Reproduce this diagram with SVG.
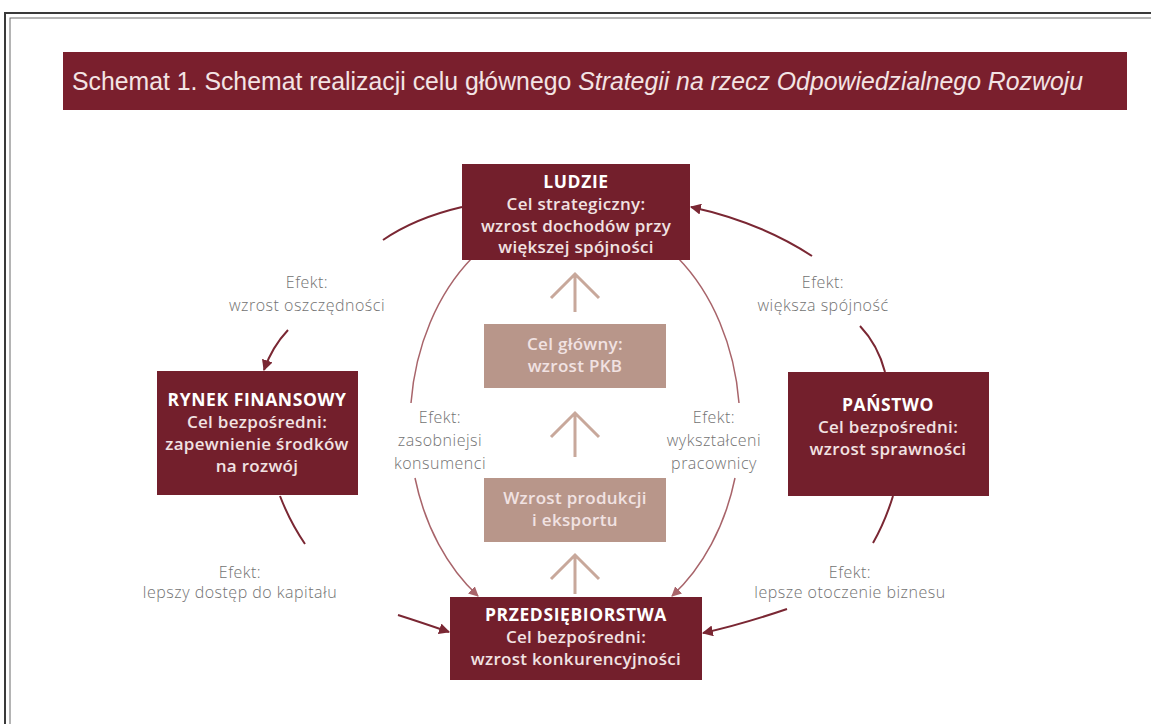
<svg xmlns="http://www.w3.org/2000/svg" width="1151" height="724" viewBox="0 0 1151 724">
<defs>
<style>
.box{fill:#731f2c}
.sub{fill:#b8968a}
.hd{font-family:"Open Sans","Liberation Sans",sans-serif;font-size:17.5px;font-weight:700;fill:#ffffff;text-anchor:middle;letter-spacing:0.6px}
.bt{font-family:"Open Sans","Liberation Sans",sans-serif;font-size:17px;font-weight:600;fill:#f1e2e2;text-anchor:middle;letter-spacing:0.3px}
.lb{font-family:"Open Sans","Liberation Sans",sans-serif;font-size:16px;font-weight:300;fill:#727272;text-anchor:middle;letter-spacing:0.5px}
.outer{fill:none;stroke:#7a2733;stroke-width:2}
.inner{fill:none;stroke:#a8646a;stroke-width:1.5}
.up{fill:none;stroke:#c8a89b;stroke-width:3}
</style>
<marker id="ah" viewBox="0 0 10 10" refX="9" refY="5" markerWidth="11" markerHeight="11" markerUnits="userSpaceOnUse" orient="auto">
<path d="M0,0 L10,5 L0,10 z" fill="#7a2733"/>
</marker>
<marker id="ahi" viewBox="0 0 10 10" refX="9" refY="5" markerWidth="10" markerHeight="10" markerUnits="userSpaceOnUse" orient="auto">
<path d="M0,0 L10,5 L0,10 z" fill="#a8646a"/>
</marker>
</defs>
<rect width="1151" height="724" fill="#ffffff"/>
<rect x="5" y="13" width="1170" height="740" fill="none" stroke="#3a3a3a" stroke-width="2"/>
<rect x="10" y="18" width="1160" height="730" fill="none" stroke="#6a6a6a" stroke-width="1"/>

<g id="title">
<rect x="63" y="52" width="1064" height="58" fill="#7a1f2d"/>
<text x="72" y="90" font-family="Liberation Sans, Arial, sans-serif" font-size="25" fill="#f3e4e4" textLength="1011" lengthAdjust="spacingAndGlyphs">Schemat 1. Schemat realizacji celu głównego <tspan font-style="italic">Strategii na rzecz Odpowiedzialnego Rozwoju</tspan></text>
</g>

<g id="connectors">
<path class="outer" d="M462,207 Q415,218 383,240"/>
<path class="outer" d="M288,330 Q272,347 264,370" marker-end="url(#ah)"/>
<path class="outer" d="M885,372 Q878,345 860,326"/>
<path class="outer" d="M812,256 Q760,222 691,207" marker-end="url(#ah)"/>
<path class="outer" d="M280,496 Q290,522 305,544"/>
<path class="outer" d="M398,615 Q420,622 449,632" marker-end="url(#ah)"/>
<path class="outer" d="M893,496 Q885,522 873,543"/>
<path class="outer" d="M787,609 Q740,625 703,633" marker-end="url(#ah)"/>
<path class="inner" d="M472,258 A163,212 0 0 0 411,403"/>
<path class="inner" d="M415,478 A163,212 0 0 0 478,596" marker-end="url(#ahi)"/>
<path class="inner" d="M678,258 A163,212 0 0 1 739,403"/>
<path class="inner" d="M735,478 A163,212 0 0 1 672,596" marker-end="url(#ahi)"/>
<path class="up" d="M575,312 V275 M551,298 L575,274 L599,298"/>
<path class="up" d="M575,457 V414 M551,437 L575,413 L599,437"/>
<path class="up" d="M575,594 V556 M551,579 L575,555 L599,579"/>
</g>

<g id="lab-oszczednosci">
<text class="lb" x="307" y="288">Efekt:</text>
<text class="lb" x="307" y="311">wzrost oszczędności</text>
</g>
<g id="lab-spojnosc">
<text class="lb" x="823" y="288">Efekt:</text>
<text class="lb" x="823" y="311">większa spójność</text>
</g>
<g id="lab-konsumenci">
<text class="lb" x="440" y="423">Efekt:</text>
<text class="lb" x="440" y="446">zasobniejsi</text>
<text class="lb" x="440" y="469">konsumenci</text>
</g>
<g id="lab-pracownicy">
<text class="lb" x="714" y="423">Efekt:</text>
<text class="lb" x="714" y="446">wykształceni</text>
<text class="lb" x="714" y="469">pracownicy</text>
</g>
<g id="lab-kapital">
<text class="lb" x="240" y="578">Efekt:</text>
<text class="lb" x="240" y="598">lepszy dostęp do kapitału</text>
</g>
<g id="lab-biznes">
<text class="lb" x="850" y="578">Efekt:</text>
<text class="lb" x="850" y="598">lepsze otoczenie biznesu</text>
</g>

<g id="ludzie">
<rect class="box" x="462" y="164" width="228" height="96"/>
<text class="hd" x="576" y="188">LUDZIE</text>
<text class="bt" x="576" y="210">Cel strategiczny:</text>
<text class="bt" x="576" y="232">wzrost dochodów przy</text>
<text class="bt" x="576" y="253">większej spójności</text>
</g>
<g id="cel-glowny">
<rect class="sub" x="484" y="324" width="182" height="64"/>
<text class="bt" x="575" y="350">Cel główny:</text>
<text class="bt" x="575" y="372">wzrost PKB</text>
</g>
<g id="wzrost-produkcji">
<rect class="sub" x="484" y="478" width="182" height="64"/>
<text class="bt" x="575" y="504">Wzrost produkcji</text>
<text class="bt" x="575" y="526">i eksportu</text>
</g>
<g id="rynek">
<rect class="box" x="157" y="371" width="201" height="124"/>
<text class="hd" x="257" y="406">RYNEK FINANSOWY</text>
<text class="bt" x="257" y="428">Cel bezpośredni:</text>
<text class="bt" x="257" y="450">zapewnienie środków</text>
<text class="bt" x="257" y="472">na rozwój</text>
</g>
<g id="panstwo">
<rect class="box" x="788" y="372" width="201" height="124"/>
<text class="hd" x="888" y="411">PAŃSTWO</text>
<text class="bt" x="888" y="433">Cel bezpośredni:</text>
<text class="bt" x="888" y="455">wzrost sprawności</text>
</g>
<g id="przedsiebiorstwa">
<rect class="box" x="450" y="597" width="252" height="83"/>
<text class="hd" x="576" y="621">PRZEDSIĘBIORSTWA</text>
<text class="bt" x="576" y="643">Cel bezpośredni:</text>
<text class="bt" x="576" y="665">wzrost konkurencyjności</text>
</g>
</svg>
